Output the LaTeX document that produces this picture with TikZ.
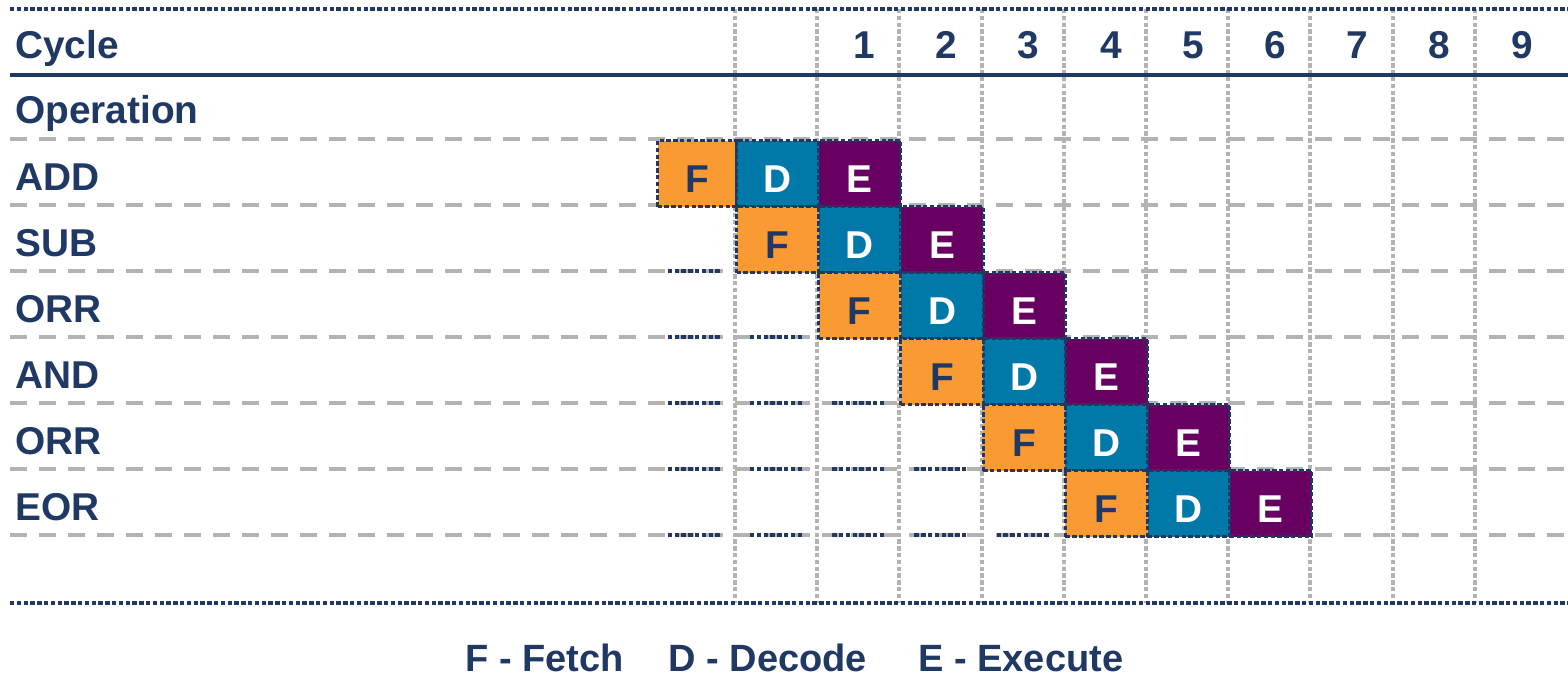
\documentclass[tikz,border=0pt]{standalone}
\usepackage{fontspec}
\setmainfont{Liberation Sans}
\definecolor{cnavy}{HTML}{1F3864}
\definecolor{cfetch}{HTML}{F99A33}
\definecolor{cdecode}{HTML}{0079A9}
\definecolor{cexec}{HTML}{680062}
\definecolor{cgrid}{HTML}{B3B3B3}
\tikzset{
  txt/.style={font=\fontsize{19.4pt}{22pt}\selectfont\bfseries, text=cnavy, inner sep=0pt},
  legtxt/.style={font=\fontsize{19pt}{22pt}\selectfont\bfseries, text=cnavy, inner sep=0pt},
  stage/.style={txt, draw=cnavy, line width=1.5pt, dash pattern=on 2.2pt off 1.2pt,
    minimum width=41.1pt, minimum height=33pt, text height=19pt, text depth=0pt, anchor=north west},
  fetchbox/.style={stage, fill=cfetch},
  decodebox/.style={stage, fill=cdecode, text=white},
  execbox/.style={stage, fill=cexec, text=white},
  gridv/.style={draw=cgrid, line width=2pt, dash pattern=on 2.2pt off 1.2pt},
  gridh/.style={draw=cgrid, line width=2.2pt, dash pattern=on 8.5pt off 6pt},
  navyrule/.style={draw=cnavy, line width=2pt, dash pattern=on 2.2pt off 1.2pt},
  stub/.style={draw=cnavy, line width=1.8pt, dash pattern=on 2.2pt off 1.2pt},
}
\begin{document}
\begin{tikzpicture}[x=0.5pt,y=-0.5pt]
\useasboundingbox (0,0) rectangle (1568,677);
% grid
\foreach \k in {0,...,6} \draw[gridh] (10,{139+66*\k}) -- (1568,{139+66*\k});
\foreach \j in {1,...,10} \draw[gridv] ({652.8+82.2*\j},9) -- ({652.8+82.2*\j},603);
% rules
\draw[navyrule] (10,9) -- (1568,9);
\draw[cnavy, line width=2pt] (10,75) -- (1568,75);
\draw[navyrule] (10,603) -- (1568,603);
% header
\node[txt, anchor=base west] (cycle) at (15,58) {Cycle};
\node[txt, anchor=base west] (operation) at (15,123) {Operation};
\foreach \n in {1,...,9}
  \node[txt, anchor=base] (num\n) at ({652.8+82.2*(\n+1.5)+6},58) {\n};
% row labels
\foreach \r/\lab in {0/ADD,1/SUB,2/ORR,3/AND,4/ORR,5/EOR}
  \node[txt, anchor=base west] (lab\r) at (15,{139+66*\r+51}) {\lab};
% stubs
\foreach \r in {1,...,5}{
  \pgfmathtruncatemacro{\last}{\r-1}
  \foreach \j in {0,...,\last}
    \draw[stub] ({652.8+82.2*\j+15},{205+66*\r}) -- ({652.8+82.2*\j+67},{205+66*\r});
}
% pipeline boxes
\node[fetchbox, minimum width=39.5pt] (f0) at (656,139) {F};
\node[decodebox] (d0) at (735,139) {D};
\node[execbox] (e0) at (817.2,139) {E};
\foreach \r in {1,...,5}{
  \node[fetchbox] (f\r) at ({652.8+82.2*\r},{139+66*\r}) {F};
  \node[decodebox] (d\r) at ({652.8+82.2*(\r+1)},{139+66*\r}) {D};
  \node[execbox] (e\r) at ({652.8+82.2*(\r+2)},{139+66*\r}) {E};
}
% legend
\node[legtxt, anchor=base west] (legf) at (465,671) {F - Fetch};
\node[legtxt, anchor=base west] (legd) at (668,671) {D - Decode};
\node[legtxt, anchor=base west] (lege) at (918,671) {E - Execute};
\end{tikzpicture}
\end{document}
